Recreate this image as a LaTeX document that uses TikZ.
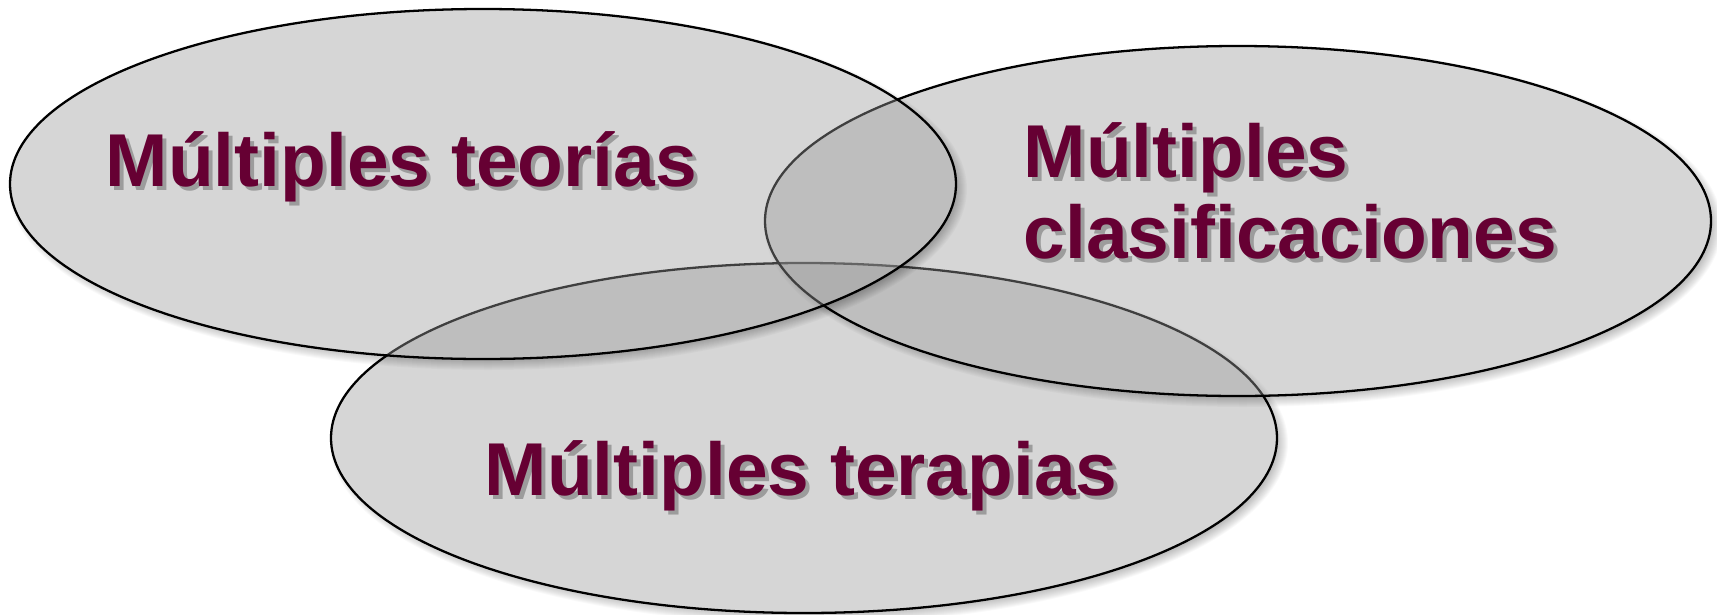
\documentclass[tikz,border=0pt]{standalone}
\usepackage{fontspec}
\setmainfont{Liberation Sans}
\definecolor{maroon}{HTML}{660033}
\definecolor{txtshadow}{HTML}{9C9C9C}
\definecolor{setgray}{HTML}{9B9B9B}

% one translucent set: soft drop shadow outside it, fill, outline
\newcommand\vennset[2]{%
  \begin{scope}
    \clip (-200,-200) -- (-200,900) -- (2000,900) -- (2000,-200) -- cycle
          (#1,#2) ellipse [x radius=473, y radius=175];
    \foreach \t in {-6,...,6}
      \fill[black, opacity=0.025] (#1+5,#2-5) ellipse [x radius=473+\t, y radius=175+\t];
  \end{scope}
  \path[setfill] (#1,#2) ellipse [x radius=473, y radius=175];
  \draw[setline] (#1,#2) ellipse [x radius=473, y radius=175];
}

\begin{document}
\begin{tikzpicture}[x=0.01cm, y=0.01cm,
  setfill/.style={fill=setgray, fill opacity=0.41},
  setline/.style={draw=black, line width=0.65pt},
  settext/.style={font=\fontsize{21.3pt}{25pt}\selectfont\bfseries, text=maroon, inner sep=0pt, anchor=base west},
  settextshadow/.style={settext, text=txtshadow}]
\useasboundingbox (0,0) rectangle (1717,614);

% the three sets, back to front
\vennset{804}{176}
\vennset{1238}{393}
\vennset{483}{430}

% set titles with their shadows
\node[settextshadow] (t1s) at (109,424) {Múltiples teorías};
\node[settext]       (t1)  at (105,428) {Múltiples teorías};

\node[settextshadow] (t2s) at (1027,433) {Múltiples};
\node[settext]       (t2)  at (1023,437) {Múltiples};
\node[settextshadow] (t3s) at (1027,352) {clasificaciones};
\node[settext]       (t3)  at (1023,356) {clasificaciones};

\node[settextshadow] (t4s) at (488,115) {Múltiples terapias};
\node[settext]       (t4)  at (484,119) {Múltiples terapias};
\end{tikzpicture}
\end{document}
